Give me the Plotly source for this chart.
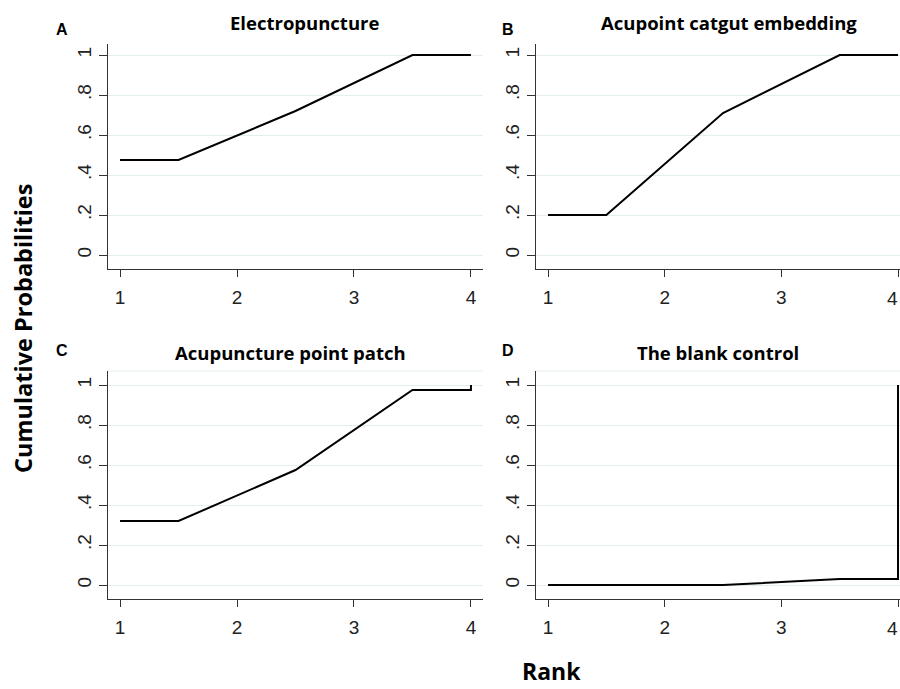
import plotly.graph_objects as go
from plotly.subplots import make_subplots

# rank positions used by the cumulative ranking curves
rank_x = [1, 1.5, 2.5, 3.5, 4, 4]

panel_titles = ['Electropuncture', 'Acupoint catgut embedding',
                'Acupuncture point patch', 'The blank control']
panel_letters = ['A', 'B', 'C', 'D']

cum_electro = [0.475, 0.475, 0.72, 1.0, 1.0, 1.0]
cum_catgut = [0.20, 0.20, 0.71, 1.0, 1.0, 1.0]
cum_patch = [0.32, 0.32, 0.575, 0.975, 0.975, 1.0]
cum_blank = [0.0, 0.0, 0.0, 0.03, 0.03, 1.0]

y_ticks = [0, 0.2, 0.4, 0.6, 0.8, 1]
y_tick_labels = ['0', '.2', '.4', '.6', '.8', '1']
x_ticks = [1, 2, 3, 4]

W, H = 900, 689


def fx(px):
    return px / W


def fy(px):
    return 1 - px / H


fig = make_subplots(rows=2, cols=2)

series = [cum_electro, cum_catgut, cum_patch, cum_blank]
for i, vals in enumerate(series):
    fig.add_trace(go.Scatter(
        x=rank_x, y=vals, mode='lines',
        line=dict(color='black', width=2),
        showlegend=False, hoverinfo='skip'
    ), row=i // 2 + 1, col=i % 2 + 1)

# pixel boxes of each panel: (left, right, top, bottom)
boxes = [(108, 483, 44, 269), (536, 900, 44, 269),
         (108, 483, 371, 599), (536, 900, 371, 599)]
x_ranges = [[0.897, 4.103], [0.897, 4.017], [0.897, 4.103], [0.897, 4.017]]
y_ranges = [[-0.07, 1.055], [-0.07, 1.055], [-0.07, 1.07], [-0.07, 1.07]]

axis_font = dict(family='Liberation Sans, Arial', size=19, color='#222')

for i, (l, r, t, b) in enumerate(boxes):
    n = '' if i == 0 else str(i + 1)
    fig.layout['xaxis' + n].update(
        domain=[fx(l), fx(r)], range=x_ranges[i],
        tickvals=x_ticks, ticks='outside', ticklen=7, tickwidth=1,
        tickcolor='#333', showline=True, linecolor='#333', linewidth=1,
        showgrid=False, zeroline=False, tickfont=axis_font,
        ticklabelstandoff=4
    )
    fig.layout['yaxis' + n].update(
        domain=[fy(b), fy(t)], range=y_ranges[i],
        tickvals=y_ticks, ticktext=y_tick_labels, tickangle=-90,
        ticks='outside', ticklen=8, tickwidth=1, tickcolor='#333',
        showline=True, linecolor='#333', linewidth=1,
        showgrid=True, gridcolor='#e4edf0', gridwidth=1,
        zeroline=False, tickfont=axis_font
    )

    ty = 23 if i < 2 else 352
    fig.add_annotation(
        text='<b>' + panel_titles[i] + '</b>', xref='paper', yref='paper',
        x=fx([304, 729, 290, 718][i]), y=fy(ty), showarrow=False,
        xanchor='center', yanchor='middle',
        font=dict(family='Open Sans', size=18.5, color='black')
    )
    fig.add_annotation(
        text='<b>' + panel_letters[i] + '</b>', xref='paper', yref='paper',
        x=fx(62 if i % 2 == 0 else 508), y=fy(30 if i < 2 else 350),
        showarrow=False, xanchor='center', yanchor='middle',
        font=dict(family='Liberation Sans, Arial', size=16, color='black')
    )

# the "4" tick label of the right-hand panels sits on the page edge;
# plotly hides it there, so it is placed just inside the edge
for row_bottom_px in (269, 599):
    fig.add_annotation(
        text=str(x_ticks[-1]), xref='paper', yref='paper',
        x=1, y=fy(row_bottom_px + 17),
        showarrow=False, xanchor='right', yanchor='top',
        font=axis_font
    )

# faint top border of the lower plot regions
for l, r, t, b in boxes[2:]:
    fig.add_shape(type='line', xref='paper', yref='paper',
                  x0=fx(l), x1=fx(r), y0=fy(t), y1=fy(t),
                  line=dict(color='#e4edf0', width=1))

fig.add_annotation(
    text='<b>Cumulative Probabilities</b>', xref='paper', yref='paper',
    x=fx(23), y=fy(329), showarrow=False, textangle=-90,
    xanchor='center', yanchor='middle',
    font=dict(family='Open Sans', size=23.5, color='black')
)
fig.add_annotation(
    text='<b>Rank</b>', xref='paper', yref='paper',
    x=fx(551), y=0, showarrow=False,
    xanchor='center', yanchor='bottom',
    font=dict(family='Open Sans', size=23, color='black')
)

fig.update_layout(
    width=W, height=H,
    margin=dict(l=0, r=0, t=0, b=0),
    plot_bgcolor='white', paper_bgcolor='white'
)

page_js = (
    "document.body.style.margin='0';"
    "document.documentElement.style.overflow='hidden';"
)
fig.write_html("out.html", config={'displayModeBar': False},
               post_script=page_js)
